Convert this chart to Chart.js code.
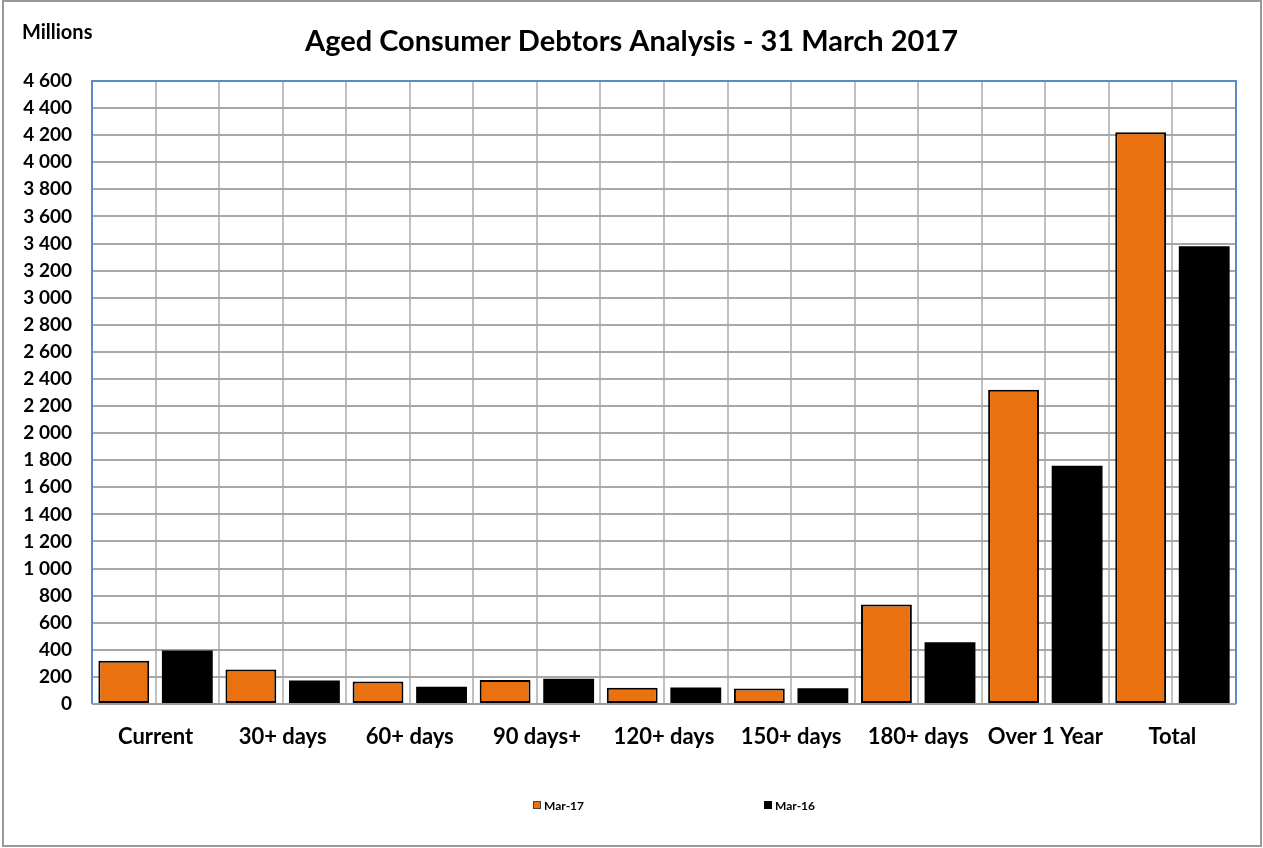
<!DOCTYPE html>
<html>
<head>
<meta charset="utf-8">
<title>Aged Consumer Debtors Analysis - 31 March 2017</title>
<script src="https://cdn.jsdelivr.net/npm/chart.js@4.4.1/dist/chart.umd.min.js"></script>
<style>
  html, body { margin: 0; padding: 0; background: #ffffff; }
  #wrap { position: relative; width: 1263px; height: 848px; }
</style>
</head>
<body>
<div id="wrap"><canvas id="chart" width="1263" height="848"></canvas></div>
<script>
// Ageing buckets (R millions)
const categories = ['Current', '30+ days', '60+ days', '90 days+', '120+ days', '150+ days', '180+ days', 'Over 1 Year', 'Total'];
const mar17 = [320, 255, 166, 178, 120, 114, 735, 2320, 4221];
const mar16 = [395, 174, 127, 186, 122, 117, 456, 1759, 3379];
const seriesNames = ['Mar-17', 'Mar-16'];
const yMin = 0, yMax = 4600, yStep = 200;

const FONT = 'Lato, "Open Sans", "Liberation Sans", sans-serif';
const ORANGE = '#E9710F';

// thousands separated by a space: 4600 -> "4 600"
const fmt = v => String(v).replace(/\B(?=(\d{3})+(?!\d))/g, ' ');

// one grid slot per bar, so vertical lines fall between every bar
const barSlots = categories.flatMap(c => [c, c]);

const framePlugin = {
  id: 'frame',
  beforeDraw(chart) {
    const ctx = chart.ctx;
    ctx.save();
    ctx.fillStyle = '#ffffff';
    ctx.fillRect(0, 0, chart.width, chart.height);
    ctx.strokeStyle = '#999999';
    ctx.lineWidth = 2;
    ctx.strokeRect(3, 1, chart.width - 5, chart.height - 3);
    ctx.restore();
  },
  afterDraw(chart) {
    const { ctx, chartArea: a } = chart;
    ctx.save();
    // plot border
    ctx.strokeStyle = '#5B8BC9';
    ctx.lineWidth = 2;
    ctx.beginPath();
    ctx.moveTo(a.left, a.bottom);
    ctx.lineTo(a.left, a.top);
    ctx.lineTo(a.right, a.top);
    ctx.lineTo(a.right, a.bottom);
    ctx.stroke();
    ctx.strokeStyle = '#9a9a9a';
    ctx.beginPath();
    ctx.moveTo(a.left, a.bottom);
    ctx.lineTo(a.right, a.bottom);
    ctx.stroke();

    // title and unit label
    ctx.fillStyle = '#000';
    ctx.textBaseline = 'middle';
    ctx.textAlign = 'center';
    ctx.font = 'bold 29px ' + FONT;
    ctx.fillText('Aged Consumer Debtors Analysis - 31 March 2017', chart.width / 2, 42);
    ctx.textAlign = 'left';
    ctx.font = 'bold 20px ' + FONT;
    ctx.fillText('Millions', 22, 33);

    // legend
    ctx.font = 'bold 12px ' + FONT;
    const startX = 533, step = 231, y = 805;
    chart.data.datasets.forEach((ds, i) => {
      const x = startX + i * step;
      ctx.fillStyle = ds.backgroundColor;
      ctx.fillRect(x, y - 4, 8, 8);
      if (ds.borderWidth) {
        ctx.strokeStyle = '#444';
        ctx.lineWidth = 1;
        ctx.strokeRect(x + 0.5, y - 3.5, 7, 7);
      }
      ctx.fillStyle = '#000';
      ctx.textAlign = 'left';
      ctx.fillText(ds.label, x + 11, y + 1);
    });
    ctx.restore();
  }
};

new Chart(document.getElementById('chart'), {
  type: 'bar',
  data: {
    labels: categories,
    datasets: [
      { label: seriesNames[0], data: mar17, backgroundColor: ORANGE, borderColor: '#000', borderWidth: 2,
        borderSkipped: false, categoryPercentage: 1.0, barPercentage: 0.8 },
      { label: seriesNames[1], data: mar16, backgroundColor: '#000000', borderColor: '#000', borderWidth: 0,
        categoryPercentage: 1.0, barPercentage: 0.8 }
    ]
  },
  options: {
    responsive: false,
    animation: false,
    layout: { padding: { left: 0, right: 27, top: 81, bottom: 84 } },
    plugins: { legend: { display: false }, title: { display: false }, tooltip: { enabled: false } },
    scales: {
      x: {
        grid: { display: false },
        border: { display: false },
        ticks: { color: '#000', font: { family: FONT, size: 22, weight: 'bold' }, padding: 12, maxRotation: 0, autoSkip: false },
        afterFit(s) { s.height = 60; }
      },
      x2: {
        type: 'category',
        labels: barSlots,
        position: 'bottom',
        grid: { offset: true, color: '#c0c0c0', lineWidth: 2, drawTicks: false },
        border: { display: false },
        ticks: { display: false },
        afterFit(s) { s.height = 0; }
      },
      y: {
        min: yMin, max: yMax,
        grid: { color: '#a8a8a8', lineWidth: 2, drawTicks: false },
        border: { display: false },
        ticks: { stepSize: yStep, color: '#000', padding: 20, font: { family: FONT, size: 19, weight: 'bold' }, callback: v => fmt(v) },
        afterFit(s) { s.width = 92; }
      }
    }
  },
  plugins: [framePlugin]
});
</script>
</body>
</html>
